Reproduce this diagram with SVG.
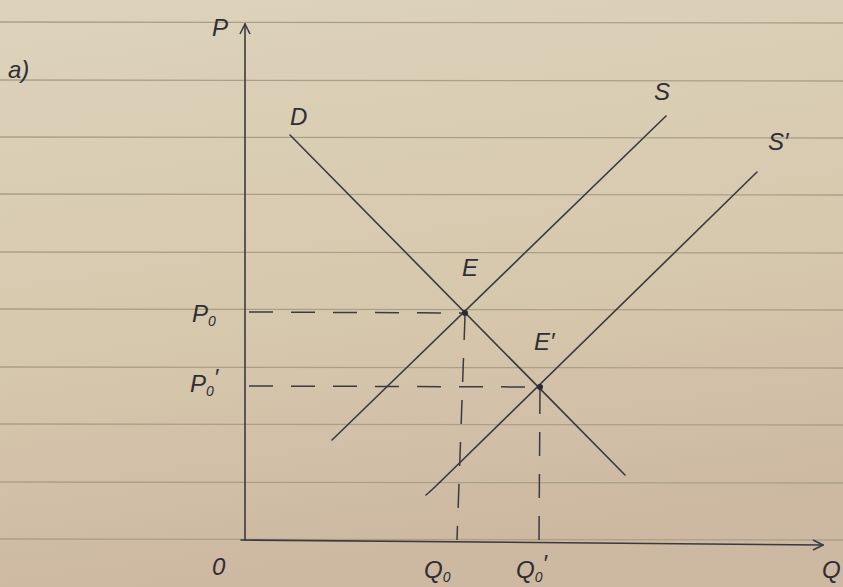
<svg xmlns="http://www.w3.org/2000/svg" width="843" height="587" viewBox="0 0 843 587">
<defs>
<linearGradient id="paper" x1="0" y1="0" x2="0.2" y2="1">
<stop offset="0" stop-color="#ddd3bb"/>
<stop offset="0.6" stop-color="#d6c8ad"/>
<stop offset="1" stop-color="#cdb8a2"/>
</linearGradient>
<marker id="arr" viewBox="0 0 12 12" refX="11" refY="6" markerWidth="12" markerHeight="12" markerUnits="userSpaceOnUse" orient="auto">
<path d="M1,1 L11,6 L1,11" fill="none" stroke="#3a3d4a" stroke-width="1.6"/>
</marker>
</defs>
<style>
.rule{stroke:#ab9f88;stroke-width:1.3}
.ink{stroke:#3a3a3f;stroke-width:1.6;fill:none;stroke-linecap:round}
.dash{stroke:#3a3a3f;stroke-width:1.5;fill:none;stroke-dasharray:24 18}
.lbl{font-family:"Liberation Sans",sans-serif;font-style:italic;font-size:24px;fill:#2e2e35}
.sub{font-size:14px}
</style>
<rect width="843" height="587" fill="url(#paper)"/>
<g id="rules">
<line class="rule" x1="0" y1="22" x2="843" y2="23"/>
<line class="rule" x1="0" y1="80" x2="843" y2="81"/>
<line class="rule" x1="0" y1="137" x2="843" y2="138"/>
<line class="rule" x1="0" y1="194" x2="843" y2="195"/>
<line class="rule" x1="0" y1="252" x2="843" y2="253"/>
<line class="rule" x1="0" y1="309" x2="843" y2="310"/>
<line class="rule" x1="0" y1="367" x2="843" y2="368"/>
<line class="rule" x1="0" y1="424" x2="843" y2="425"/>
<line class="rule" x1="0" y1="482" x2="843" y2="483"/>
<line class="rule" x1="0" y1="539" x2="843" y2="540"/>
</g>
<g id="axes">
<line class="ink" x1="245" y1="540" x2="245" y2="24" marker-end="url(#arr)"/>
<line class="ink" x1="241" y1="540" x2="823" y2="545" marker-end="url(#arr)"/>
</g>
<g id="curves">
<line id="D" class="ink" x1="290" y1="135" x2="625" y2="475"/>
<line id="S" class="ink" x1="332" y1="440" x2="666" y2="116"/>
<path id="S1" class="ink" d="M426,495 Q432,490 438,484 L757,172"/>
</g>
<g id="connectors">
<line class="dash" x1="249" y1="312" x2="465" y2="313"/>
<line class="dash" x1="249" y1="386" x2="540" y2="387"/>
<line class="dash" x1="465" y1="316" x2="457" y2="540"/>
<line class="dash" x1="540" y1="390" x2="539" y2="540"/>
</g>
<g id="E"><circle cx="465" cy="313" r="3" fill="#2a2a30"/><text class="lbl" x="462" y="276">E</text></g>
<g id="E1"><circle cx="540" cy="387" r="3" fill="#2a2a30"/><text class="lbl" x="534" y="350">E′</text></g>
<g id="labels">
<text class="lbl" x="8" y="78">a)</text>
<text class="lbl" x="212" y="36">P</text>
<text class="lbl" x="290" y="125">D</text>
<text class="lbl" x="654" y="100">S</text>
<text class="lbl" x="768" y="150">S′</text>
<text class="lbl" x="192" y="322">P<tspan class="sub" dy="4">0</tspan></text>
<text class="lbl" x="190" y="392">P<tspan class="sub" dy="4">0</tspan><tspan dy="-10">′</tspan></text>
<text class="lbl" x="212" y="575">0</text>
<text class="lbl" x="424" y="578">Q<tspan class="sub" dy="4">0</tspan></text>
<text class="lbl" x="516" y="578">Q<tspan class="sub" dy="4">0</tspan><tspan dy="-10">′</tspan></text>
<text class="lbl" x="822" y="578">Q</text>
</g>
</svg>
